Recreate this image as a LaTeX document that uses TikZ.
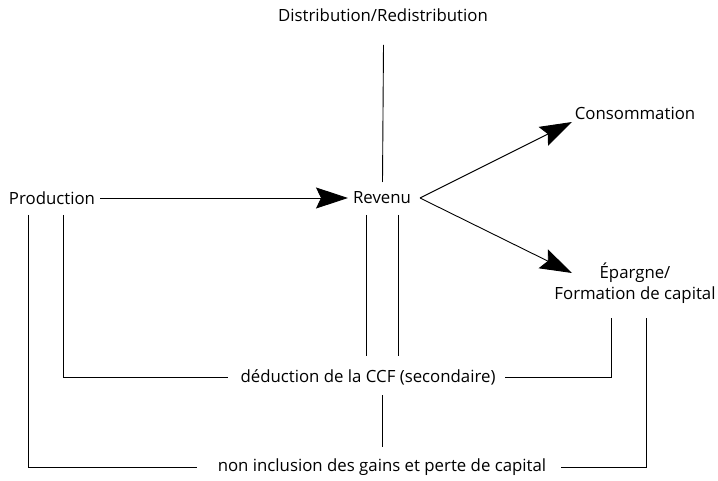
\documentclass[tikz,border=0pt]{standalone}
\usepackage{fontspec}
\setmainfont{Open Sans}
\usetikzlibrary{arrows.meta}
\begin{document}
\begin{tikzpicture}[x=1pt,y=-1pt,
  lab/.style={inner sep=0pt, font=\fontsize{16.8}{21}\selectfont},
  conn/.style={line width=0.9pt},
  arr/.style={conn, -{Stealth[length=32pt,width=21pt,inset=5pt]}}]
\useasboundingbox (0,0) rectangle (718,481);
\node[lab] (dist) at (383,15) {Distribution/Redistribution};
\node[lab] (prod) at (52,198) {Production};
\node[lab] (rev) at (382,198) {Revenu};
\node[lab] (cons) at (635,113) {Consommation};
\node[lab, align=center] (epar) at (635,283) {Épargne/\\Formation de capital};
\node[lab] (ded) at (368,377) {déduction de la CCF (secondaire)};
\node[lab] (noninc) at (382,467) {non inclusion des gains et perte de capital};
% helper coordinates
\coordinate (dtop) at ([shift={(0.5pt,-30pt)}]dist.center);
\coordinate (rtop) at ([shift={(0.5pt,16pt)}]rev.center);
\coordinate (v) at ([xshift=38pt]rev.center);
\coordinate (ctip) at ([shift={(-63pt,-9pt)}]cons.center);
\coordinate (etip) at ([shift={(-63pt,10pt)}]epar.center);
\coordinate (rl) at ([shift={(-16pt,-17pt)}]rev.center);
\coordinate (rr) at ([shift={(16pt,-17pt)}]rev.center);
\coordinate (dedtop) at ([yshift=21pt]ded.center);
\coordinate (p1) at ([shift={(11pt,-17pt)}]prod.center);
\coordinate (p2) at ([shift={(-24pt,-17pt)}]prod.center);
\coordinate (dedL) at ([xshift=-140pt]ded.center);
\coordinate (dedR) at ([xshift=137pt]ded.center);
\coordinate (e1) at ([shift={(-24pt,-35pt)}]epar.center);
\coordinate (e2) at ([shift={(11pt,-35pt)}]epar.center);
\coordinate (nL) at ([xshift=-185pt]noninc.center);
\coordinate (nR) at ([xshift=179pt]noninc.center);
\coordinate (m1) at ([yshift=72pt]noninc.center);
\coordinate (m2) at ([yshift=20pt]noninc.center);
% connectors
\draw[conn] (dtop) -- (rtop);
\draw[arr] ([xshift=48pt]prod.center) -- ([xshift=-34pt]rev.center);
\draw[arr] (v) -- (ctip);
\draw[arr] (v) -- (etip);
\draw[conn] (rl) -- (rl |- dedtop);
\draw[conn] (rr) -- (rr |- dedtop);
\draw[conn] (p1) |- (dedL);
\draw[conn] (dedR) -| (e1);
\draw[conn] (p2) |- (nL);
\draw[conn] (nR) -| (e2);
\draw[conn] (m1) -- (m2);
\end{tikzpicture}
\end{document}
